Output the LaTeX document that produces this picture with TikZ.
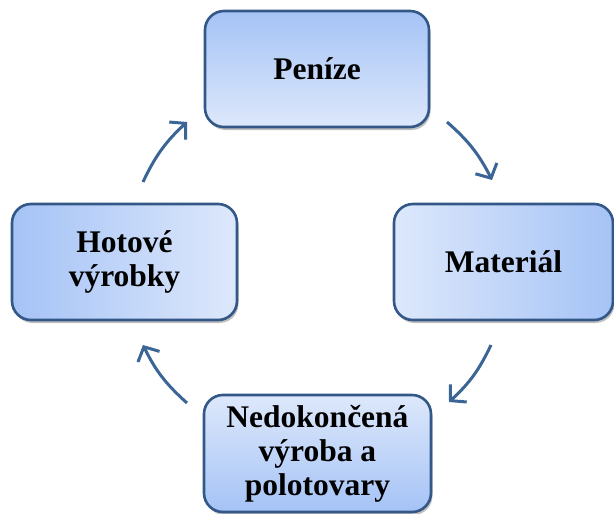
\documentclass[tikz,border=0pt]{standalone}
\usepackage{fontspec}
\setmainfont{Liberation Serif}
\usetikzlibrary{arrows.meta,shadows}
\definecolor{boxline}{HTML}{335887}
\definecolor{arrowcol}{HTML}{3A6595}
\definecolor{dark}{HTML}{A5C3F6}
\definecolor{light}{HTML}{DDE8FB}
\tikzset{
  box/.style={draw=boxline, line width=2.6pt, rounded corners=19pt,
    align=center, inner sep=0pt,
    font=\fontsize{31.5}{34}\selectfont\bfseries,
    drop shadow={shadow xshift=1.5pt, shadow yshift=-3pt, fill=black, opacity=0.25}},
  cyc/.style={draw=arrowcol, line width=3pt,
    -{Straight Barb[length=11pt,width=24pt,line width=3pt]}}
}
\begin{document}
\begin{tikzpicture}[x=1pt,y=-1pt]
\path[use as bounding box, fill=white] (0,0) rectangle (614,514);
\node[box, minimum width=224pt, minimum height=116pt, top color=dark, bottom color=light] (pen) at (317,69) {Peníze};
\node[box, minimum width=219pt, minimum height=116pt, left color=light, right color=dark] (mat) at (503.5,262) {Materiál};
\node[box, minimum width=227pt, minimum height=117pt, top color=light, bottom color=dark] (ned) at (317.5,453.5) {Nedokončená\\výroba a\\polotovary};
\node[box, minimum width=225pt, minimum height=116pt, left color=dark, right color=light] (hot) at (124.5,262) {Hotové\\výrobky};
\coordinate (a1s) at (447,122);
\coordinate (a1e) at (492,180);
\coordinate (a2s) at (491,345);
\coordinate (a2e) at (449,402);
\coordinate (a3s) at (187,403);
\coordinate (a3e) at (143,345);
\coordinate (a4s) at (143,182);
\coordinate (a4e) at (187,122);
\draw[cyc] (a1s) to[bend left=11] (a1e);
\draw[cyc] (a2s) to[bend left=11] (a2e);
\draw[cyc] (a3s) to[bend left=11] (a3e);
\draw[cyc] (a4s) to[bend left=11] (a4e);
\end{tikzpicture}
\end{document}
